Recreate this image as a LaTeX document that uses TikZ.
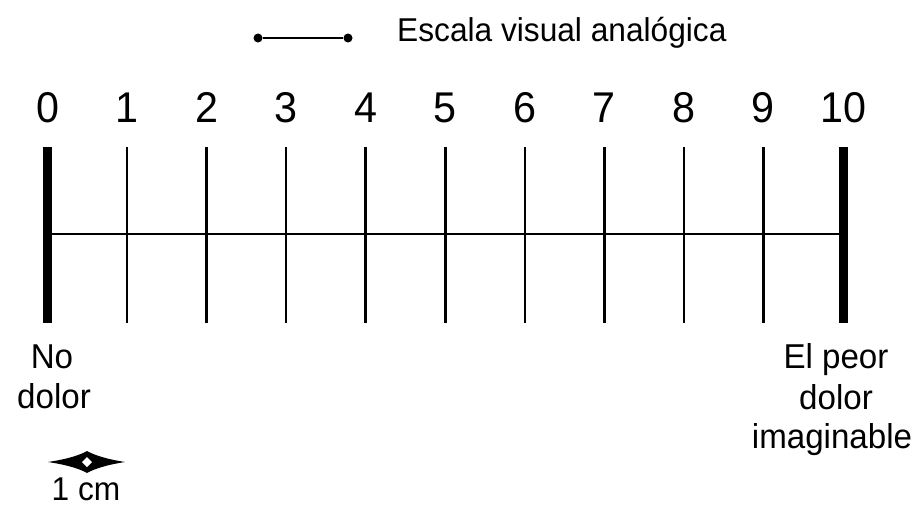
\documentclass[tikz,border=0pt]{standalone}
\usepackage{fontspec}
\setmainfont{Liberation Sans}[FakeStretch=0.96]
\begin{document}
\begin{tikzpicture}[x=1pt,y=-1pt,
  tickline/.style={line width=2.6pt},
  endbar/.style={line width=9pt},
  axisline/.style={line width=2.6pt},
  numlabel/.style={font=\fontsize{43}{43}\selectfont, anchor=base, inner sep=0pt},
  lbl/.style={font=\fontsize{33}{33}\selectfont, anchor=base, inner sep=0pt},
  endlbl/.style={font=\fontsize{34.5}{34.5}\selectfont, anchor=base, inner sep=0pt},
  legdot/.style={circle, fill=black, inner sep=0pt, minimum size=9pt}]
\useasboundingbox (0,0) rectangle (923,508);
% ticks
\foreach \i in {0,...,10}{
  \coordinate (top\i) at ({47.5+79.55*\i},147);
  \coordinate (bot\i) at ({47.5+79.55*\i},323);
  \node[numlabel] (n\i) at ({47.5+79.55*\i},123) {\i};
}
\foreach \i in {1,...,9}{
  \draw[tickline] (top\i) -- (bot\i);
}
\draw[endbar] (top0) -- (bot0);
\draw[endbar] (top10) -- (bot10);
\coordinate (axL) at (47.5,234);
\coordinate (axR) at (843,234);
\draw[axisline] (axL) -- (axR);
% legend
\node[legdot] (dl) at (258,38) {};
\node[legdot] (dr) at (348,38) {};
\draw[line width=2pt] (dl) -- (dr);
\node[lbl, anchor=base west] (legtxt) at (397,42) {Escala visual analógica};
% end labels
\node[endlbl] (no) at (52,368) {No};
\node[endlbl] (dolorL) at (54,408) {dolor};
\node[endlbl] (elpeor) at (836,368) {El peor};
\node[endlbl] (dolorR) at (836,409) {dolor};
\node[endlbl] (imag) at (832,448) {imaginable};
% 1 cm marker
\fill (48,462) .. controls (68,459) and (80,455) .. (87,451)
      .. controls (94,455) and (106,459) .. (125,462)
      .. controls (106,465) and (94,469) .. (87,473)
      .. controls (80,469) and (68,465) .. (48,462) -- cycle;
\fill[white] (82,462) -- (87,457) -- (92,462) -- (87,467) -- cycle;
\node[font=\fontsize{33}{33}\selectfont, anchor=base, inner sep=0pt] (cm) at (86,500) {1 cm};
\end{tikzpicture}
\end{document}
